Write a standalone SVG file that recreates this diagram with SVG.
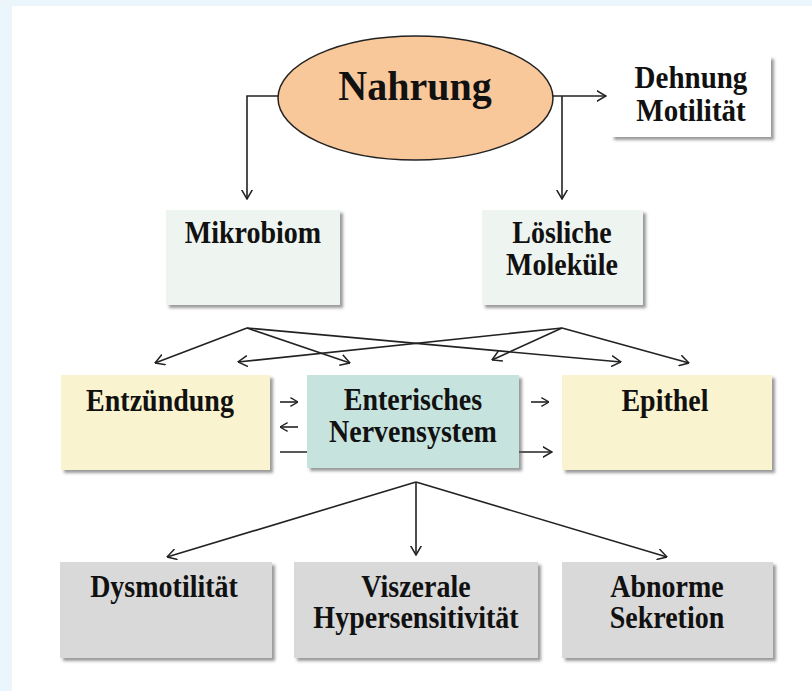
<svg xmlns="http://www.w3.org/2000/svg" width="812" height="691" viewBox="0 0 812 691">
<defs>
<marker id="ah" viewBox="0 0 10 12" refX="9.5" refY="6" markerWidth="10" markerHeight="12" markerUnits="userSpaceOnUse" orient="auto">
<path d="M0,0.5 L9.5,6 L0,11.5" fill="none" stroke="#222" stroke-width="1.5"/>
</marker>
<marker id="ahs" viewBox="0 0 10 12" refX="9.5" refY="6" markerWidth="8" markerHeight="10" markerUnits="userSpaceOnUse" orient="auto">
<path d="M0,0.5 L9.5,6 L0,11.5" fill="none" stroke="#222" stroke-width="1.6"/>
</marker>
<filter id="sh" x="-10%" y="-10%" width="125%" height="130%">
<feDropShadow dx="3" dy="3" stdDeviation="1.8" flood-color="#555" flood-opacity="0.6"/>
</filter>
</defs>
<style>
.t{font-family:"Liberation Serif","Times New Roman",serif;font-weight:bold;font-size:28px;fill:#111;text-anchor:middle}
.c{fill:none;stroke:#222;stroke-width:1.6}
.box{filter:url(#sh)}
</style>
<rect x="0" y="0" width="812" height="691" fill="#EAF5FC"/>
<rect x="12" y="6" width="800" height="685" fill="#FFFFFF"/>

<g id="connectors">
<path class="c" d="M278,96 H247 V199" marker-end="url(#ah)"/>
<path class="c" d="M553,96 H606" marker-end="url(#ah)"/>
<path class="c" d="M562,96 V199" marker-end="url(#ah)"/>
<path class="c" d="M247,328 L155,363" marker-end="url(#ah)"/>
<path class="c" d="M247,328 L350,363" marker-end="url(#ah)"/>
<path class="c" d="M247,328 L621,362" marker-end="url(#ah)"/>
<path class="c" d="M562,328 L238,362" marker-end="url(#ah)"/>
<path class="c" d="M562,328 L492,360" marker-end="url(#ah)"/>
<path class="c" d="M562,328 L689,363" marker-end="url(#ah)"/>
<path class="c" d="M280,402 H298" marker-end="url(#ahs)"/>
<path class="c" d="M298,427 H280" marker-end="url(#ahs)"/>
<path class="c" d="M280,452 H552" marker-end="url(#ah)"/>
<path class="c" d="M531,402 H549" marker-end="url(#ahs)"/>
<path class="c" d="M416,482 L167,557" marker-end="url(#ah)"/>
<path class="c" d="M416,482 V555" marker-end="url(#ah)"/>
<path class="c" d="M416,482 L667,557" marker-end="url(#ah)"/>
</g>

<g id="nahrung">
<ellipse cx="415.5" cy="98" rx="137.5" ry="62" fill="#F8C89B" stroke="#222" stroke-width="1.5"/>
<text class="t" x="415" y="100" style="font-size:40px" transform="translate(0,100) scale(1,1.05) translate(0,-100)">Nahrung</text>
</g>

<g id="dehnung">
<rect class="box" x="611" y="56" width="160" height="81" fill="#FFFFFF"/>
<text class="t" x="691" y="88" style="font-size:29px" transform="translate(0,88) scale(1,1.12) translate(0,-88)">Dehnung</text>
<text class="t" x="691" y="121" style="font-size:29px" transform="translate(0,121) scale(1,1.12) translate(0,-121)">Motilität</text>
</g>

<g id="mikrobiom">
<rect class="box" x="166" y="210" width="174" height="95" fill="#EEF4EF"/>
<text class="t" x="253" y="243" transform="translate(0,243) scale(1,1.12) translate(0,-243)">Mikrobiom</text>
</g>

<g id="loesliche">
<rect class="box" x="482" y="210" width="161" height="95" fill="#EEF4EF"/>
<text class="t" x="562" y="243" transform="translate(0,243) scale(1,1.12) translate(0,-243)">Lösliche</text>
<text class="t" x="562" y="275" transform="translate(0,275) scale(1,1.12) translate(0,-275)">Moleküle</text>
</g>

<g id="entzuendung">
<rect class="box" x="61" y="375" width="209" height="95" fill="#FAF3CF"/>
<text class="t" x="160" y="411" transform="translate(0,411) scale(1,1.12) translate(0,-411)">Entzündung</text>
</g>

<g id="ens">
<rect class="box" x="307" y="375" width="212" height="93" fill="#C6E3DE"/>
<text class="t" x="413" y="410" transform="translate(0,410) scale(1,1.1) translate(0,-410)">Enterisches</text>
<text class="t" x="413" y="442" transform="translate(0,442) scale(1,1.1) translate(0,-442)">Nervensystem</text>
</g>

<g id="epithel">
<rect class="box" x="562" y="375" width="210" height="95" fill="#FAF3CF"/>
<text class="t" x="665" y="411" transform="translate(0,411) scale(1,1.12) translate(0,-411)">Epithel</text>
</g>

<g id="dysmotilitaet">
<rect class="box" x="60" y="562" width="212" height="96" fill="#D9D9D9"/>
<text class="t" x="164" y="597" transform="translate(0,597) scale(1,1.12) translate(0,-597)">Dysmotilität</text>
</g>

<g id="viszerale">
<rect class="box" x="294" y="562" width="244" height="96" fill="#D9D9D9"/>
<text class="t" x="416" y="597" transform="translate(0,597) scale(1,1.12) translate(0,-597)">Viszerale</text>
<text class="t" x="416" y="628" transform="translate(0,628) scale(1,1.12) translate(0,-628)">Hypersensitivität</text>
</g>

<g id="abnorme">
<rect class="box" x="562" y="562" width="211" height="96" fill="#D9D9D9"/>
<text class="t" x="667" y="597" transform="translate(0,597) scale(1,1.12) translate(0,-597)">Abnorme</text>
<text class="t" x="667" y="628" transform="translate(0,628) scale(1,1.12) translate(0,-628)">Sekretion</text>
</g>
</svg>
